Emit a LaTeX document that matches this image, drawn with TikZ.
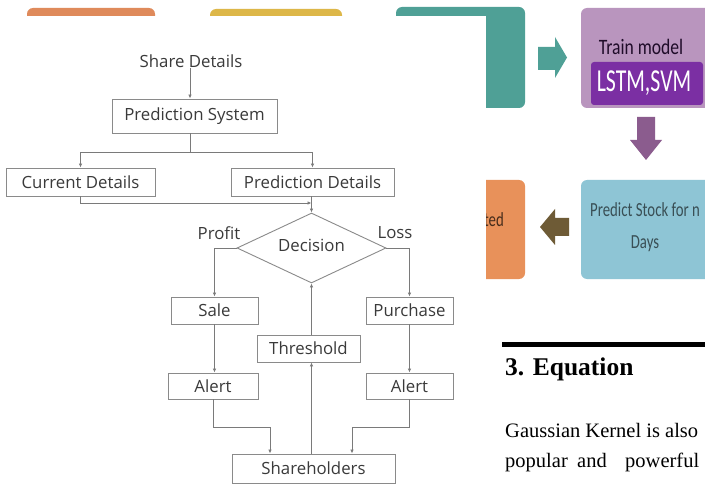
\documentclass[tikz,border=0pt]{standalone}
\usepackage{fontspec}
\usepackage{graphicx}
\setmainfont{Liberation Serif}
\newfontfamily\flowfont{Open Sans}
\newfontfamily\artfont{Carlito}
\usetikzlibrary{shapes.geometric,arrows.meta}
\definecolor{orangeA}{HTML}{DF8A5B}
\definecolor{orangeB}{HTML}{E8915A}
\definecolor{yellowA}{HTML}{DDB748}
\definecolor{tealA}{HTML}{4FA096}
\definecolor{purpleL}{HTML}{B995BE}
\definecolor{purpleD}{HTML}{7B2FA3}
\definecolor{purpleArrow}{HTML}{8B5C8E}
\definecolor{blueL}{HTML}{8EC5D5}
\definecolor{brownArrow}{HTML}{6E5B36}
\definecolor{boxgray}{HTML}{8A8A8A}
\definecolor{linegray}{HTML}{7A7A7A}
\definecolor{flowtext}{HTML}{3A3A3A}
\tikzset{
  flowbox/.style={draw=boxgray, line width=0.9pt, fill=white, inner sep=0pt,
    text=flowtext, font=\flowfont\fontsize{16.8}{20}\selectfont},
  flowlabel/.style={inner sep=0pt, text=flowtext, font=\flowfont\fontsize{16.8}{20}\selectfont},
  conn/.style={draw=linegray, line width=0.9pt, -{Latex[length=4pt,width=3.5pt]}},
  plainline/.style={draw=linegray, line width=0.9pt},
  artbox/.style={rounded corners=6pt},
  arttext/.style={inner sep=0pt, font=\artfont\fontsize{22}{26}\selectfont},
  papertext/.style={inner sep=0pt, anchor=base west, font=\fontsize{20.5}{24}\selectfont}
}
\begin{document}
\begin{tikzpicture}[x=1pt,y=-1pt]
\useasboundingbox (0,0) rectangle (705,484);
\clip (0,0) rectangle (705,484);
\fill[white] (0,0) rectangle (705,484);
% ---- background slide ----
\fill[orangeA, artbox] (27,8) rectangle (155,60);
\fill[yellowA, artbox] (210,9) rectangle (342,60);
\fill[tealA, artbox] (396,7) rectangle (525,108);
\fill[tealA] (538,47) -- (555,47) -- (555,37) -- (567,57.5) -- (555,78) -- (555,70) -- (538,70) -- cycle;
\fill[purpleL, artbox] (581,8) rectangle (712,108);
\node[arttext, text=black!75!purpleD] (train) at (641,47) {\scalebox{0.8}[1]{Train model}};
\fill[purpleD, rounded corners=3pt] (591,62) rectangle (703,105);
\node[arttext, text=white, font=\artfont\fontsize{32}{36}\selectfont] (lstm) at (644,83) {\scalebox{0.68}[1]{LSTM,SVM}};
\fill[purpleArrow] (637,117) -- (655,117) -- (655,140) -- (662,140) -- (646,160) -- (630,140) -- (637,140) -- cycle;
\fill[blueL, artbox] (581,180) rectangle (712,279);
\node[arttext, text=black!60!blueL, align=center, font=\artfont\fontsize{20}{32}\selectfont] (predict) at (645,227) {\scalebox{0.74}[1]{Predict Stock for n}\\\scalebox{0.74}[1]{Days}};
\fill[brownArrow] (569,218) -- (555,218) -- (555,209) -- (540,227) -- (555,245) -- (555,236) -- (569,236) -- cycle;
\fill[orangeB, artbox] (400,180) rectangle (525,279);
\node[arttext, text=black!70!orangeB, anchor=east, font=\artfont\fontsize{20}{24}\selectfont] (ted) at (504,220) {\scalebox{0.74}[1]{ted}};
% ---- white overlay ----
\fill[white] (0,16) rectangle (486,484);
% ---- paper text ----
\fill[black] (502,342) rectangle (705,347);
\node[papertext, font=\bfseries\fontsize{25.5}{30}\selectfont] (eq) at (505,375) {3. Equation};
\node[papertext] (g1) at (505,437) {Gaussian Kernel is also};
\node[papertext] (g2a) at (505,467) {popular};
\node[papertext] (g2b) at (577,467) {and};
\node[papertext] (g2c) at (625,467) {powerful};
% ---- flowchart ----
\node[flowlabel] (share) at (191,61) {Share Details};
\node[flowbox, minimum width=165pt, minimum height=34pt] (ps) at (194.5,116) {Prediction System};
\node[flowbox, minimum width=149pt, minimum height=28pt] (cur) at (80.5,182) {Current Details};
\node[flowbox, minimum width=163pt, minimum height=28pt] (pred) at (312.5,182) {Prediction Details};
\node[draw=boxgray, line width=0.9pt, fill=white, diamond, aspect=2.14, inner sep=0pt,
      minimum width=149pt, minimum height=70pt, text=flowtext,
      font=\flowfont\fontsize{16.8}{20}\selectfont] (dec) at (311.5,248) {};
\node[flowlabel] (dectext) at (311.5,245) {Decision};
\node[flowlabel] (profit) at (219,233) {Profit};
\node[flowlabel] (loss) at (395,233) {Loss};
\node[flowbox, minimum width=87pt, minimum height=27pt] (sale) at (214.5,310.5) {Sale};
\node[flowbox, minimum width=87pt, minimum height=27pt] (purch) at (409.5,310.5) {Purchase};
\node[flowbox, minimum width=103pt, minimum height=27pt] (thr) at (308.5,348.5) {Threshold};
\node[flowbox, minimum width=90pt, minimum height=26pt] (alert1) at (213,386) {Alert};
\node[flowbox, minimum width=87pt, minimum height=26pt] (alert2) at (409.5,386) {Alert};
\node[flowbox, minimum width=163pt, minimum height=29pt] (sh) at (313.5,468.5) {Shareholders};
\coordinate (j1) at (190,152);
\coordinate (j2) at (311.5,203);
\coordinate (k1) at (270,427);
\coordinate (k2) at (352,427);
\draw[conn] (share.south -| j1) -- (ps.north -| j1);
\draw[plainline] (ps.south -| j1) -- (j1);
\draw[conn] (j1) -| (cur.north);
\draw[conn] (j1) -| (pred.north);
\draw[conn] (cur.south) |- (j2);
\draw[conn] (pred.south -| dec.north) -- (dec.north);
\draw[conn] (dec.west) -| (sale.north);
\draw[conn] (dec.east) -| (purch.north);
\draw[conn] (sale.south) -- (sale.south |- alert1.north);
\draw[conn] (purch.south) -- (purch.south |- alert2.north);
\draw[conn] (alert1.south) |- (k1) -- (k1 |- sh.north);
\draw[conn] (alert2.south) |- (k2) -- (k2 |- sh.north);
\draw[conn] (sh.north -| dec.south) -- (thr.south -| dec.south);
\draw[conn] (thr.north -| dec.south) -- (dec.south);
\end{tikzpicture}
\end{document}
